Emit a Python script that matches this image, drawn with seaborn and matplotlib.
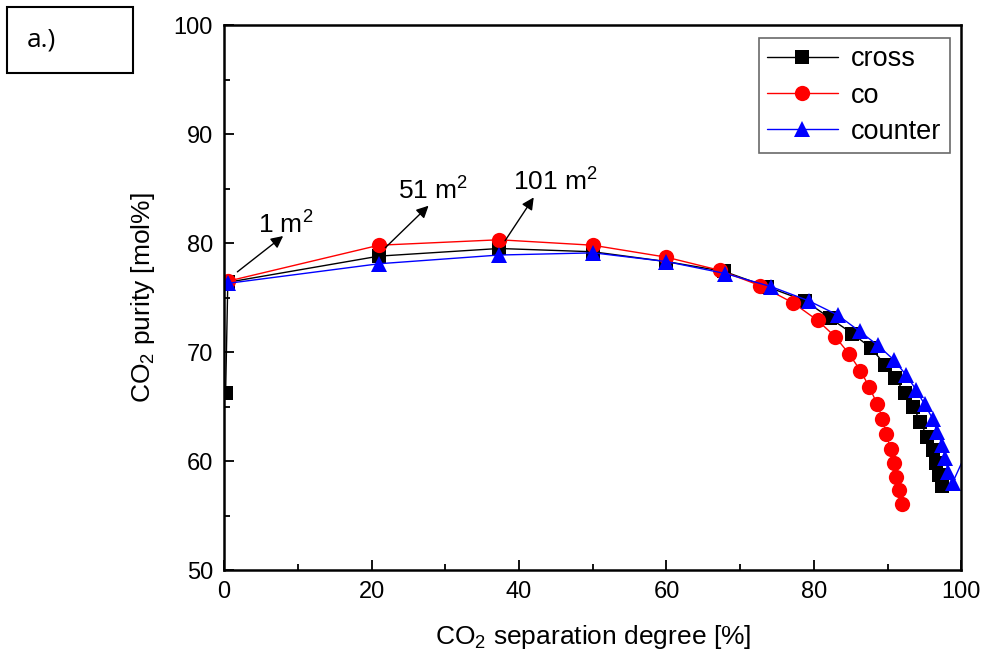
import matplotlib
matplotlib.use("Agg")
import matplotlib.pyplot as plt
import seaborn as sns
import pandas as pd
from matplotlib.ticker import MultipleLocator
from matplotlib.patches import Rectangle

cross_x = [0.2, 0.5, 21.0, 37.3, 50.0, 60.0, 67.8, 73.6, 78.8, 82.2, 85.2, 87.7, 89.7, 91.0,
           92.4, 93.5, 94.4, 95.4, 96.1, 96.5, 96.9, 97.4]
cross_y = [66.2, 76.4, 78.8, 79.5, 79.2, 78.3, 77.4, 76.0, 74.7, 73.1, 71.7, 70.4, 68.8, 67.6,
           66.2, 65.0, 63.6, 62.2, 61.0, 59.8, 58.7, 57.7]

co_x = [0.5, 21.0, 37.3, 50.0, 60.0, 67.2, 72.7, 77.2, 80.5, 82.9, 84.8, 86.3, 87.5, 88.6,
        89.3, 89.8, 90.4, 90.8, 91.2, 91.6, 91.9]
co_y = [76.5, 79.8, 80.3, 79.8, 78.7, 77.5, 76.1, 74.5, 72.9, 71.4, 69.8, 68.3, 66.8, 65.2,
        63.9, 62.5, 61.1, 59.8, 58.5, 57.3, 56.1]

counter_x = [0.5, 21.0, 37.3, 50.1, 60.0, 68.0, 74.2, 79.3, 83.2, 86.2, 88.7, 90.8, 92.5, 93.9,
             95.0, 96.1, 96.7, 97.4, 97.8, 98.2, 98.8, 101.5]
counter_y = [76.3, 78.1, 78.9, 79.1, 78.3, 77.2, 76.0, 74.7, 73.4, 71.9, 70.6, 69.3, 67.9, 66.5,
             65.2, 63.9, 62.7, 61.5, 60.3, 59.0, 58.0, 62.0]

series_names = ["cross", "co", "counter"]
colors = ["black", "red", "blue"]
markers = ["s", "o", "^"]
msizes = [9.5, 11, 11.5]

annot_labels = ["1 m$^2$", "51 m$^2$", "101 m$^2$"]
annot_from = [(1.5, 77.2), (21.6, 79.4), (37.9, 80.0)]
annot_to = [(8.3, 80.8), (28.0, 83.6), (42.2, 84.4)]
annot_text = [(4.6, 80.9), (23.6, 84.0), (39.2, 84.8)]

sns.set_style("ticks")
plt.rcParams['font.family'] = ['Liberation Sans', 'DejaVu Sans']
plt.rcParams['mathtext.fontset'] = 'custom'
plt.rcParams['mathtext.rm'] = 'Liberation Sans'
plt.rcParams['mathtext.it'] = 'Liberation Sans'
plt.rcParams['text.color'] = 'black'
plt.rcParams['axes.labelcolor'] = 'black'
plt.rcParams['xtick.color'] = 'black'
plt.rcParams['ytick.color'] = 'black'
plt.rcParams['axes.edgecolor'] = 'black'

fig = plt.figure(figsize=(9.83, 6.59), dpi=100)
ax = fig.add_axes([0.228, 0.135, 0.750, 0.827])

data = [(cross_x, cross_y), (co_x, co_y), (counter_x, counter_y)]
for (xs, ys), name, c, m, ms in zip(data, series_names, colors, markers, msizes):
    df = pd.DataFrame({"x": xs, "y": ys})
    sns.lineplot(data=df, x="x", y="y", sort=False, ax=ax, color=c, marker=m,
                 markersize=ms, markeredgewidth=0, linewidth=1.0, label=name, clip_on=True)

ax.set_xlim(0, 100)
ax.set_ylim(50, 100)
ax.xaxis.set_major_locator(MultipleLocator(20))
ax.xaxis.set_minor_locator(MultipleLocator(10))
ax.yaxis.set_major_locator(MultipleLocator(10))
ax.yaxis.set_minor_locator(MultipleLocator(5))
ax.tick_params(which='major', direction='in', length=7, width=1.3, labelsize=17, pad=8)
ax.tick_params(which='minor', direction='in', length=4, width=1.3)
for s in ax.spines.values():
    s.set_linewidth(1.8)
    s.set_visible(True)

ax.set_xlabel("CO$_2$ separation degree [%]", fontsize=19, labelpad=14)
ax.set_ylabel("CO$_2$ purity [mol%]", fontsize=19, labelpad=12)

for lab, p0, p1, pt in zip(annot_labels, annot_from, annot_to, annot_text):
    ax.annotate("", xy=p1, xytext=p0,
                arrowprops=dict(arrowstyle="-|>", color="black", lw=1.0, mutation_scale=18))
    ax.text(pt[0], pt[1], lab, fontsize=19, ha="left", va="baseline")

leg = ax.legend(loc="upper right", fontsize=19.5, frameon=True, fancybox=False,
                edgecolor="#444444", handlelength=2.6, borderpad=0.3, labelspacing=0.38,
                handletextpad=0.5, borderaxespad=0, bbox_to_anchor=(0.984, 0.976))
leg.get_frame().set_linewidth(1.2)

fig.patches.append(Rectangle((7 / 983, 1 - 73 / 659), 126 / 983, 66 / 659,
                             transform=fig.transFigure, fill=False, edgecolor="black",
                             linewidth=1.5))
fig.text(27 / 983, 1 - 40 / 659, "a.)", fontsize=19, family=["Open Sans", "DejaVu Sans"],
         va="center", ha="left")

fig.savefig("out.png", dpi=100)
